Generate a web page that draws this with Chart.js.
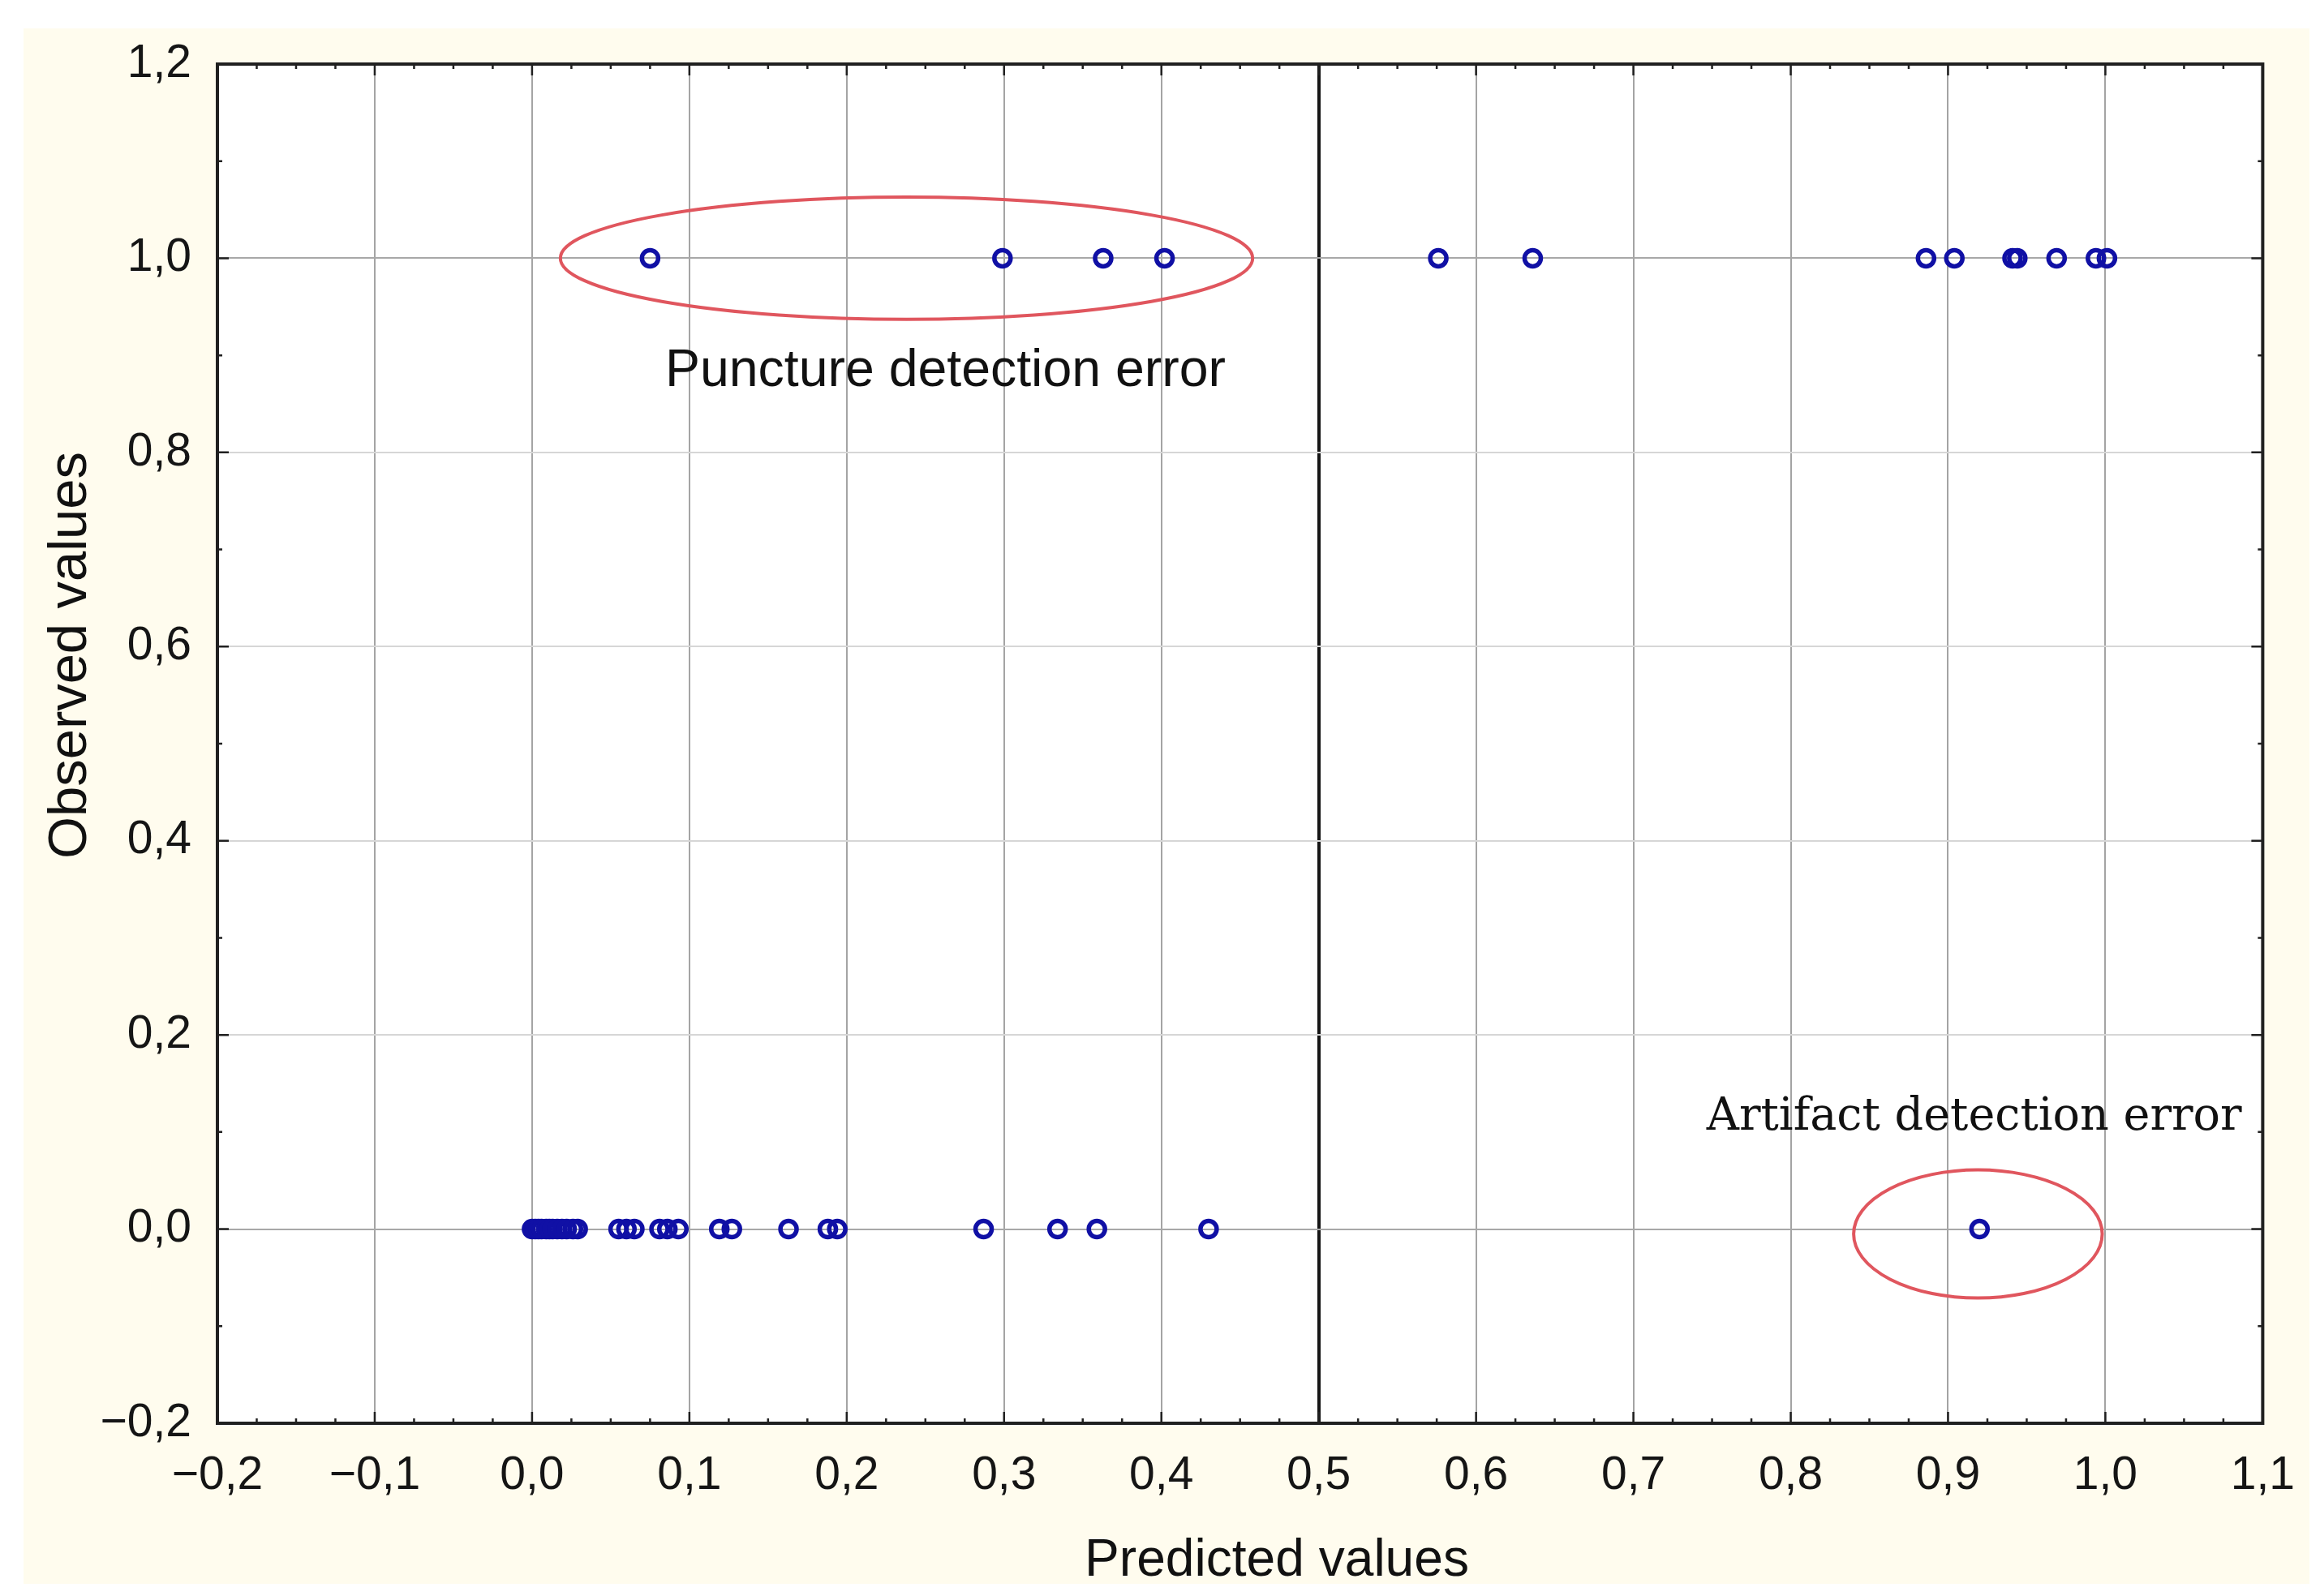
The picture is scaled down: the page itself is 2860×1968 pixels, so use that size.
<!DOCTYPE html>
<html>
<head>
<meta charset="utf-8">
<script src="https://cdn.jsdelivr.net/npm/chart.js@4.4.1/dist/chart.umd.min.js"></script>
<style>
  html, body { margin: 0; padding: 0; background: #ffffff; }
  canvas { display: block; }
</style>
</head>
<body>
<canvas id="scatterChart" width="2860" height="1968"></canvas>
<script>
// Observed classes (y) and the predicted values (x)
var observedClasses = [1, 0];
var predictedObserved1 = [0.075, 0.299, 0.363, 0.402, 0.576, 0.636, 0.886, 0.904, 0.941, 0.944, 0.969, 0.994, 1.001];
var predictedObserved0 = [0.000, 0.002, 0.004, 0.006, 0.009, 0.011, 0.013, 0.016, 0.019, 0.022, 0.026, 0.029,
                          0.055, 0.060, 0.065, 0.081, 0.086, 0.093, 0.119, 0.127, 0.163, 0.188, 0.194,
                          0.287, 0.334, 0.359, 0.430, 0.920];

// Axis ranges / tick steps
var xRange = [-0.2, 1.1];
var yRange = [-0.2, 1.2];
var xStep = 0.1;
var yStep = 0.2;
var thresholdX = 0.5;

// Annotations: ellipse centre + radii in data units, text anchor in data units
var annotationLabels = ['Puncture detection error', 'Artifact detection error'];
var ellipseCenters = [[0.238, 1.0], [0.919, -0.005]];
var ellipseRadii = [[0.220, 0.063], [0.079, 0.066]];
var labelAnchors = [[0.0846, 0.868], [0.7465, 0.1028]];

function fmt(v) {
  var s = Math.abs(v).toFixed(1).replace('.', ',');
  return (v < -1e-9 ? '\u2212' : '') + s;
}

// build the scatter points
var points = [];
predictedObserved1.forEach(function (x) { points.push({ x: x, y: observedClasses[0] }); });
predictedObserved0.forEach(function (x) { points.push({ x: x, y: observedClasses[1] }); });

function fitFont(ctx, text, family, weight, width) {
  ctx.font = weight + ' 100px ' + family;
  return 100 * width / ctx.measureText(text).width;
}

var decorPlugin = {
  id: 'decor',
  beforeDraw: function (chart) {
    var ctx = chart.ctx, a = chart.chartArea;
    ctx.save();
    ctx.fillStyle = '#ffffff';
    ctx.fillRect(0, 0, chart.width, chart.height);
    ctx.fillStyle = '#fffcee';
    ctx.fillRect(29, 35, 2818, 1918);
    ctx.fillStyle = '#ffffff';
    ctx.fillRect(a.left, a.top, a.right - a.left, a.bottom - a.top);
    ctx.restore();
  },
  afterDatasetsDraw: function (chart) {
    var ctx = chart.ctx, a = chart.chartArea;
    var xs = chart.scales.x, ys = chart.scales.y;
    ctx.save();

    // red ellipses
    ctx.strokeStyle = '#e0565e';
    ctx.lineWidth = 4;
    for (var i = 0; i < ellipseCenters.length; i++) {
      var cx = xs.getPixelForValue(ellipseCenters[i][0]);
      var cy = ys.getPixelForValue(ellipseCenters[i][1]);
      var rx = Math.abs(xs.getPixelForValue(ellipseCenters[i][0] + ellipseRadii[i][0]) - cx);
      var ry = Math.abs(ys.getPixelForValue(ellipseCenters[i][1] + ellipseRadii[i][1]) - cy);
      ctx.beginPath();
      ctx.ellipse(cx, cy, rx, ry, 0, 0, Math.PI * 2);
      ctx.stroke();
    }

    // annotation texts
    ctx.fillStyle = '#111111';
    ctx.textBaseline = 'alphabetic';
    ctx.textAlign = 'left';
    var s1 = fitFont(ctx, annotationLabels[0], '"Liberation Sans", Arial, sans-serif', 'normal', 691);
    ctx.font = s1 + 'px "Liberation Sans", Arial, sans-serif';
    ctx.fillText(annotationLabels[0], xs.getPixelForValue(labelAnchors[0][0]), ys.getPixelForValue(labelAnchors[0][1]));
    var s2 = fitFont(ctx, annotationLabels[1], '"DejaVu Serif", serif', 'normal', 660);
    ctx.font = s2 + 'px "DejaVu Serif", serif';
    ctx.fillText(annotationLabels[1], xs.getPixelForValue(labelAnchors[1][0]), ys.getPixelForValue(labelAnchors[1][1]));

    // frame
    ctx.strokeStyle = '#202020';
    ctx.lineWidth = 4;
    ctx.strokeRect(a.left, a.top, a.right - a.left, a.bottom - a.top);

    // ticks on all four sides (3 minor per x step, 1 minor per y step)
    ctx.lineWidth = 2.5;
    var n = Math.round((xRange[1] - xRange[0]) / (xStep / 4));
    for (var k = 0; k <= n; k++) {
      var px = xs.getPixelForValue(xRange[0] + k * xStep / 4);
      var len = (k % 4 === 0) ? 14 : 6;
      ctx.beginPath();
      ctx.moveTo(px, a.bottom); ctx.lineTo(px, a.bottom - len);
      ctx.moveTo(px, a.top); ctx.lineTo(px, a.top + len);
      ctx.stroke();
    }
    var m = Math.round((yRange[1] - yRange[0]) / (yStep / 2));
    for (var j = 0; j <= m; j++) {
      var py = ys.getPixelForValue(yRange[0] + j * yStep / 2);
      var l2 = (j % 2 === 0) ? 14 : 6;
      ctx.beginPath();
      ctx.moveTo(a.left, py); ctx.lineTo(a.left + l2, py);
      ctx.moveTo(a.right, py); ctx.lineTo(a.right - l2, py);
      ctx.stroke();
    }

    // axis titles
    ctx.fillStyle = '#111111';
    var tf = '"Liberation Sans", Arial, sans-serif';
    var s3 = fitFont(ctx, 'Predicted values', tf, 'normal', 474);
    ctx.font = s3 + 'px ' + tf;
    ctx.textAlign = 'center';
    ctx.fillText('Predicted values', 1574, 1943);
    var s4 = fitFont(ctx, 'Observed values', tf, 'normal', 502);
    ctx.font = s4 + 'px ' + tf;
    ctx.translate(106, 808);
    ctx.rotate(-Math.PI / 2);
    ctx.fillText('Observed values', 0, 0);
    ctx.restore();
  }
};

var ctx = document.getElementById('scatterChart').getContext('2d');
var chart = new Chart(ctx, {
  type: 'scatter',
  data: {
    datasets: [{
      label: 'Observed vs predicted',
      data: points,
      pointStyle: 'circle',
      pointRadius: 10,
      pointBorderWidth: 5.5,
      borderColor: 'rgb(16,16,165)',
      backgroundColor: 'rgba(0,0,0,0)'
    }]
  },
  options: {
    responsive: false,
    animation: false,
    devicePixelRatio: 1,
    layout: { padding: { left: 0, top: 79, right: 64, bottom: 0 } },
    plugins: {
      legend: { display: false },
      tooltip: { enabled: false }
    },
    scales: {
      x: {
        type: 'linear',
        min: xRange[0],
        max: xRange[1],
        afterFit: function (s) { s.height = 213; },
        border: { display: false },
        grid: {
          drawTicks: false,
          color: function (c) { return Math.abs(c.tick.value - thresholdX) < 1e-6 ? '#151515' : '#a4a4a4'; },
          lineWidth: function (c) { return Math.abs(c.tick.value - thresholdX) < 1e-6 ? 4 : 2; }
        },
        ticks: {
          stepSize: xStep,
          padding: 31,
          color: '#151515',
          font: { family: '"Liberation Sans", Arial, sans-serif', size: 57 },
          maxRotation: 0,
          autoSkip: false,
          callback: function (v) { return fmt(v); }
        }
      },
      y: {
        type: 'linear',
        min: yRange[0],
        max: yRange[1],
        afterFit: function (s) { s.width = 268; },
        border: { display: false },
        grid: {
          drawTicks: false,
          color: function (c) {
            var v = c.tick.value;
            return (Math.abs(v) < 1e-6 || Math.abs(v - 1) < 1e-6) ? '#a8a8a8' : '#d6d6d6';
          },
          lineWidth: 2
        },
        ticks: {
          stepSize: yStep,
          padding: 32,
          color: '#151515',
          font: { family: '"Liberation Sans", Arial, sans-serif', size: 57 },
          autoSkip: false,
          callback: function (v) { return fmt(v); }
        }
      }
    }
  },
  plugins: [decorPlugin]
});
</script>
</body>
</html>
